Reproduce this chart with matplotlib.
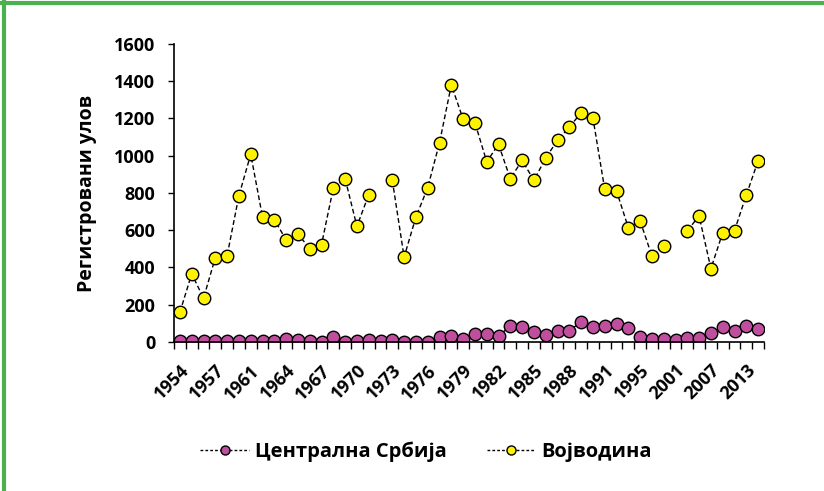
import numpy as np
from matplotlib import pyplot as plt
from matplotlib.lines import Line2D

plt.rcParams['font.family'] = ['Open Sans', 'DejaVu Sans']
plt.rcParams['font.weight'] = 'bold'
plt.rcParams['axes.labelweight'] = 'bold'

# categories (years); only every third one is labelled on the axis
years = [1954, 1955, 1956, 1957, 1958, 1960,
         1961, 1962, 1963, 1964, 1965, 1966, 1967, 1968, 1969, 1970,
         1971, 1972, 1973, 1974, 1975, 1976, 1977, 1978, 1979, 1980,
         1981, 1982, 1983, 1984, 1985, 1986, 1987, 1988, 1989, 1990,
         1991, 1992, 1993, 1995, 1997, 1999, 2001, 2003, 2005, 2007,
         2009, 2011, 2013, 2015]

central_serbia = [3, 3, 3, 3, 3, 3, 3, 3, 4, 14,
                  12, 6, 2, 25, 2, 3, 12, 3, 11, 2,
                  2, 2, 28, 34, 14, 43, 43, 30, 88, 79,
                  51, 35, 60, 61, 108, 82, 88, 97, 73, 28,
                  14, 14, 11, 22, 20, 50, 82, 61, 86, 68]

vojvodina = [160, 366, 235, 453, 464, 786, 1008, 671, 657, 548,
             580, 501, 523, 827, 877, 621, 791, None, 868, 456,
             671, 829, 1070, 1380, 1197, 1178, 968, 1061, 877, 975,
             868, 988, 1083, 1153, 1231, 1203, 820, 811, 614, 650,
             462, 517, None, 597, 677, 394, 587, 598, 789, 973]

names = ['Централна Србија', 'Војводина']
colors = ['#BF4F9E', '#FFF200']

fig = plt.figure(figsize=(8.24, 4.91), dpi=100)
ax = fig.add_axes([0.2112, 0.3035, 0.716, 0.6069])

x = np.arange(len(years))
for vals, col, name in zip([central_serbia, vojvodina], colors, names):
    y = np.array([np.nan if v is None else v for v in vals], dtype=float)
    ax.plot(x, y, linestyle=(0, (3.5, 2)), color='black', linewidth=1,
            marker='o', markersize=9, markerfacecolor=col,
            markeredgecolor='black', markeredgewidth=1, label=name)

ax.set_xlim(-0.5, len(years) - 0.5)
ax.set_ylim(0, 1600)
ax.set_yticks(range(0, 1601, 200))
ax.tick_params(axis='y', direction='out', length=4.5, width=1, labelsize=13, pad=9)

lab_idx = list(range(0, len(years), 3))[:17]
ax.set_xticks(lab_idx)
ax.set_xticklabels([str(years[i]) for i in lab_idx], rotation=45, ha='right',
                   va='top', rotation_mode='anchor', fontsize=13)
ax.set_xticks(np.arange(-0.5, len(years), 1), minor=True)
ax.tick_params(axis='x', which='major', length=0, pad=14)
ax.tick_params(axis='x', which='minor', direction='out', length=5, width=1)

for s in ['top', 'right']:
    ax.spines[s].set_visible(False)
for s in ['left', 'bottom']:
    ax.spines[s].set_linewidth(1.2)

ax.set_ylabel('Регистровани улов', fontsize=14, fontweight='bold', labelpad=12)

handles = [Line2D([], [], linestyle=(0, (2, 1.5)), color='black', linewidth=1,
                  marker='o', markersize=6.5, markerfacecolor=c,
                  markeredgecolor='black') for c in colors]
fig.legend(handles, names, loc='center', bbox_to_anchor=(0.517, 0.08), ncol=2,
           frameon=False, fontsize=14.5, handlelength=2.4, columnspacing=2.0,
           handletextpad=0.3)

# green frame (only left and top visible in the original)
fig.add_artist(Line2D([0.005, 0.005], [0, 0.995], color='#4CB050', linewidth=3,
                      transform=fig.transFigure))
fig.add_artist(Line2D([0.003, 1.0], [0.993, 0.993], color='#4CB050', linewidth=3,
                      transform=fig.transFigure))

fig.savefig('out.png', dpi=100)
